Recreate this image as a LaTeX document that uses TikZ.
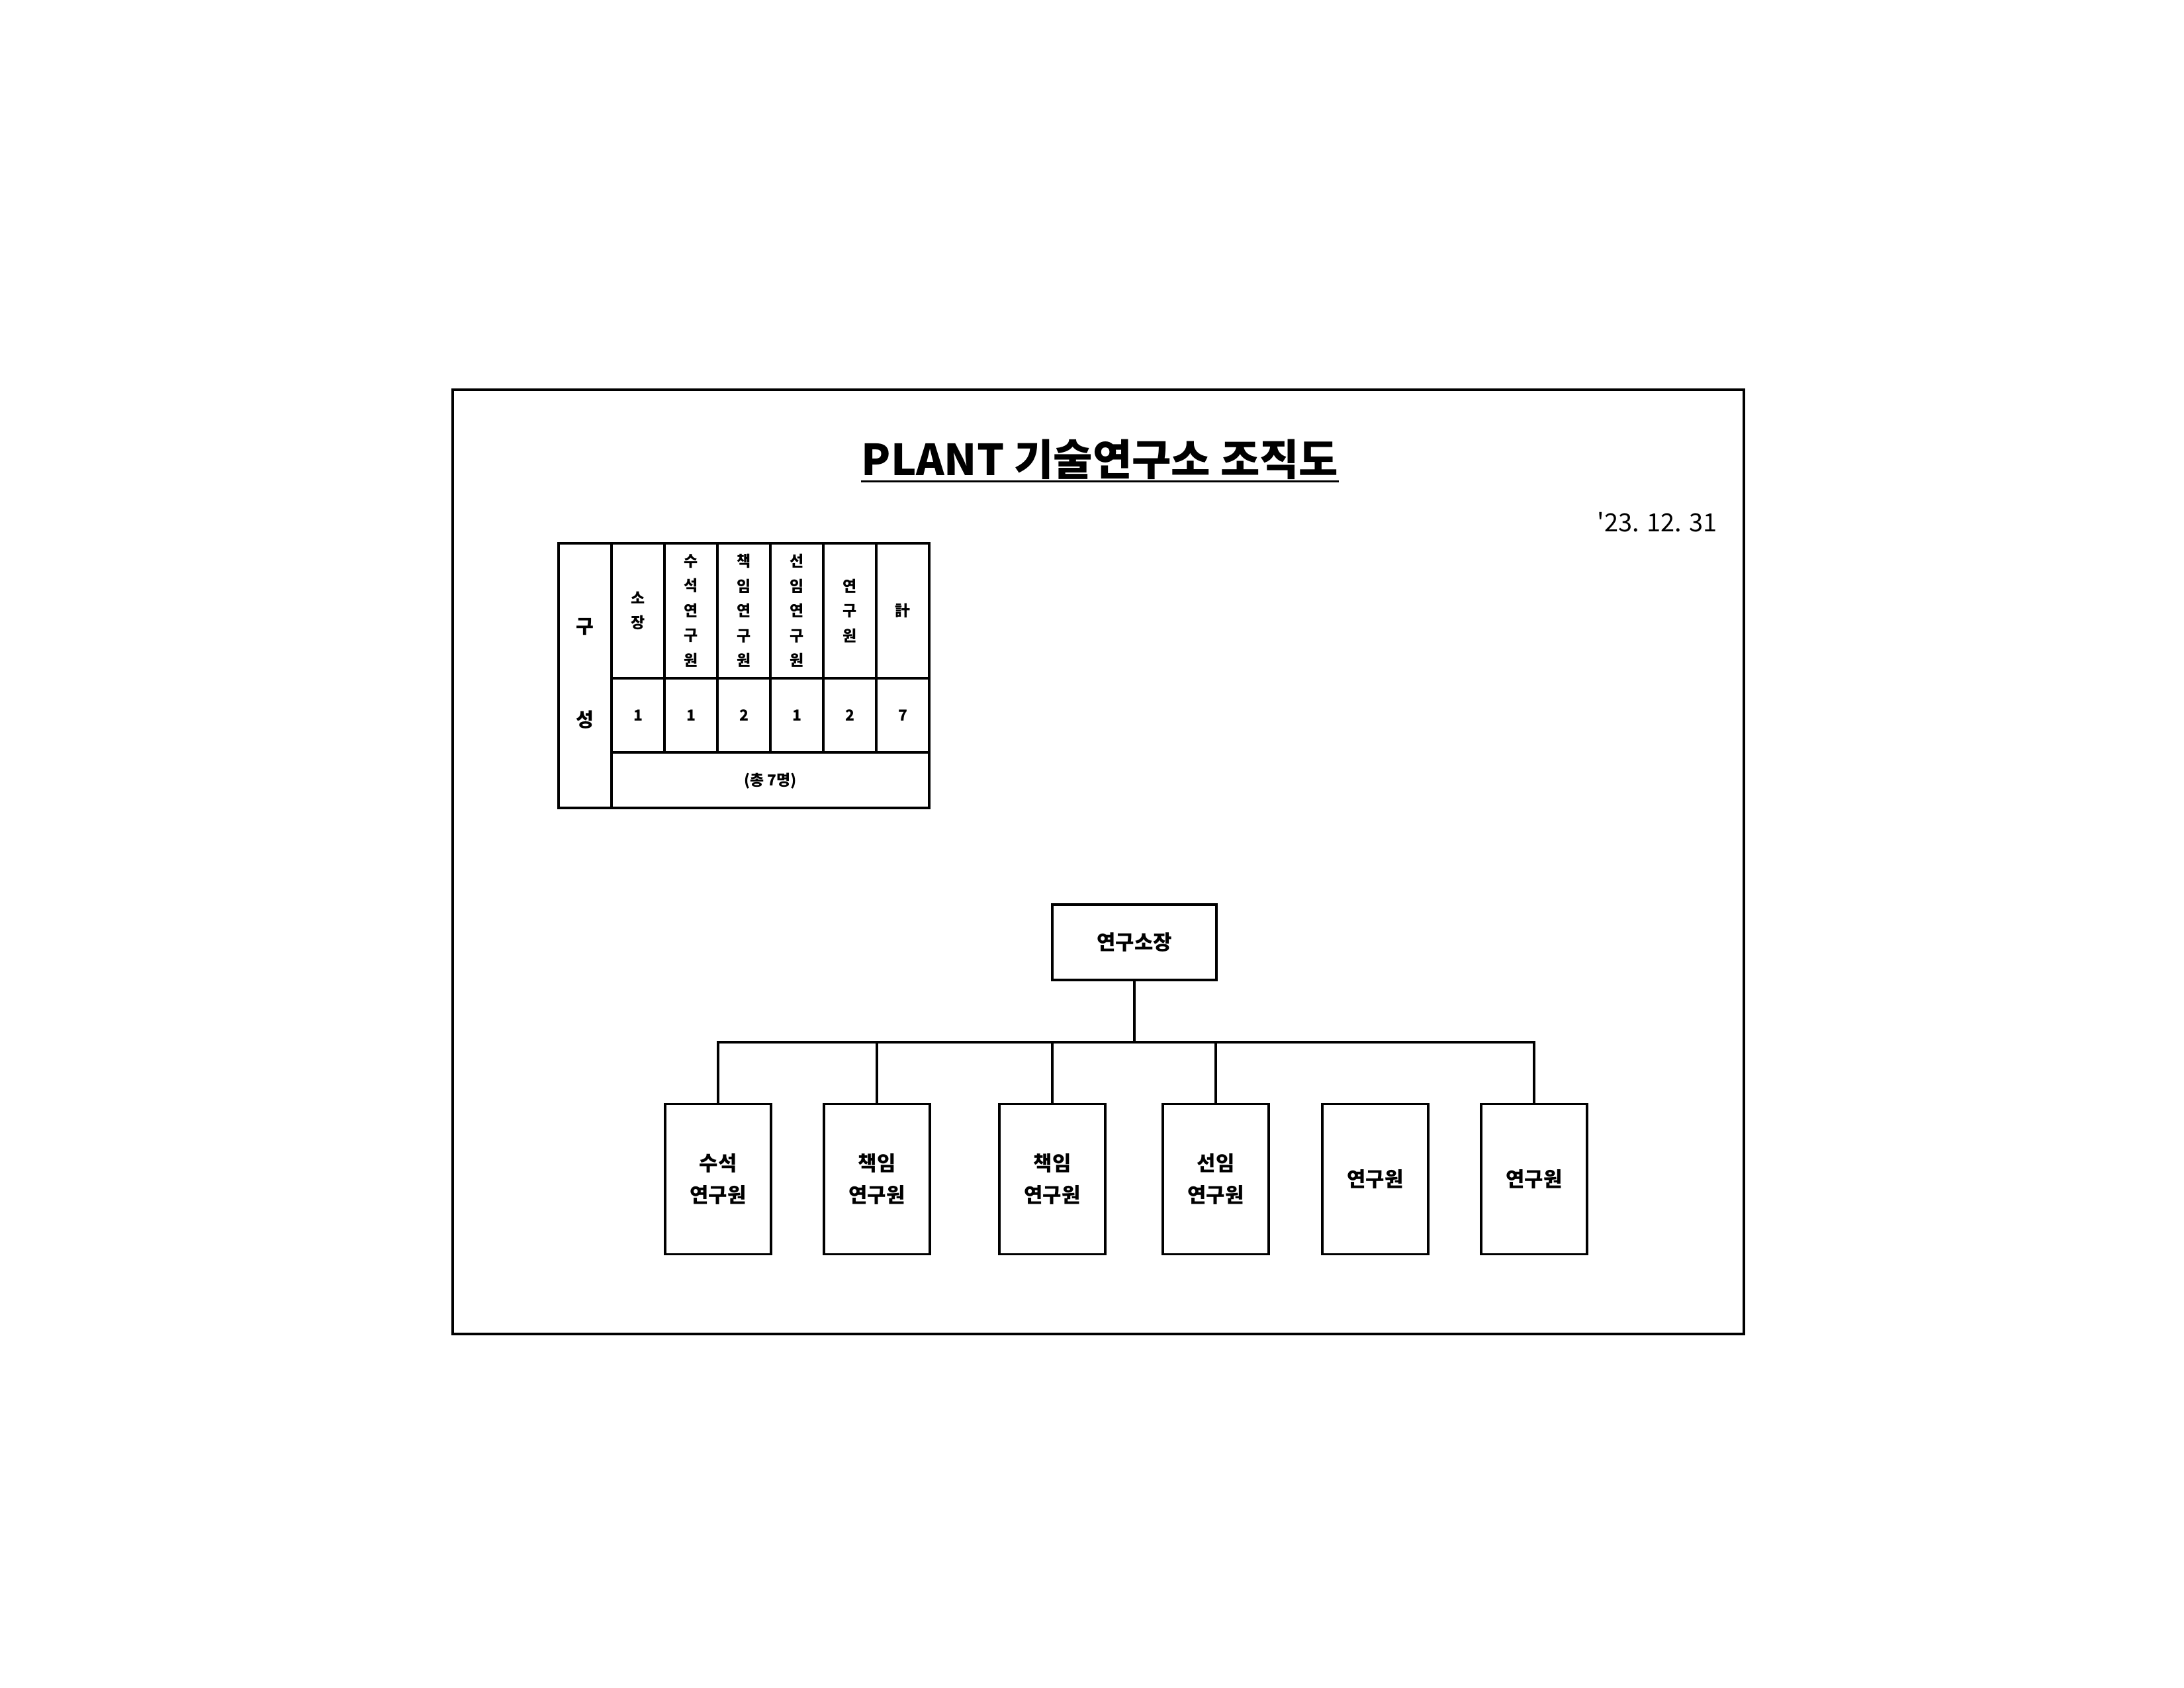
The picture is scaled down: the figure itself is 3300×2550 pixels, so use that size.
\documentclass[tikz,border=0pt]{standalone}
\usepackage{fontspec}
\setmainfont{Noto Sans CJK KR}
\newfontfamily\plainfont{Noto Sans CJK KR}
\begin{document}
\begin{tikzpicture}[x=0.24pt,y=-0.24pt,
  frame/.style={draw,line width=0.85pt},
  tline/.style={line width=0.8pt},
  tabtxt/.style={inner sep=0pt,align=center,font=\bfseries\fontsize{5.5}{9}\selectfont},
  bigtxt/.style={inner sep=0pt,font=\bfseries\fontsize{7}{9}\selectfont},
  topbox/.style={draw,line width=0.85pt,minimum width=59.5pt,minimum height=27.4pt,inner sep=0pt,font=\bfseries\fontsize{7.4}{11.5}\selectfont},
  mbox/.style={draw,line width=0.85pt,minimum width=38.4pt,minimum height=54.5pt,inner sep=0pt,align=center,font=\bfseries\fontsize{7.4}{11.5}\selectfont},
  conn/.style={draw,line width=0.75pt}]
\useasboundingbox (0,0) rectangle (3300,2550);
\draw[frame] (684,589) rectangle (2635,2016);
% title
\node[anchor=base,inner sep=0pt,font=\bfseries\fontsize{15.5}{18}\selectfont] (title) at (1662,718) {PLANT 기술연구소 조직도};
\draw[line width=0.75pt] ([yshift=-2.2pt]title.base west) -- ([yshift=-2.2pt]title.base east);
\node[anchor=base east,inner sep=0pt,font=\plainfont\fontsize{9.1}{12}\selectfont] (date) at (2595,803) {'23. 12. 31};
% table
\draw[tline] (844,821) rectangle (1404,1221);
\draw[tline] (924,821) -- (924,1221);
\foreach \x in {1004,1084,1164,1244,1324} \draw[tline] (\x,821) -- (\x,1137);
\draw[tline] (924,1025) -- (1404,1025);
\draw[tline] (924,1137) -- (1404,1137);
\node[bigtxt] (gu) at (884,947) {구};
\node[bigtxt] (seong) at (884,1088) {성};
\node[tabtxt] (h1) at (964,923) {소\\장};
\node[tabtxt] (h2) at (1044,923) {수\\석\\연\\구\\원};
\node[tabtxt] (h3) at (1124,923) {책\\임\\연\\구\\원};
\node[tabtxt] (h4) at (1204,923) {선\\임\\연\\구\\원};
\node[tabtxt] (h5) at (1284,923) {연\\구\\원};
\node[tabtxt] (h6) at (1364,923) {計};
\node[tabtxt] (n1) at (964,1081) {1};
\node[tabtxt] (n2) at (1044,1081) {1};
\node[tabtxt] (n3) at (1124,1081) {2};
\node[tabtxt] (n4) at (1204,1081) {1};
\node[tabtxt] (n5) at (1284,1081) {2};
\node[tabtxt] (n6) at (1364,1081) {7};
\node[tabtxt] (total) at (1164,1180) {(총 7명)};
% org chart
\node[topbox] (dir) at (1714,1424) {연구소장};
\node[mbox] (m1) at (1085,1782) {수석\\연구원};
\node[mbox] (m2) at (1325,1782) {책임\\연구원};
\node[mbox] (m3) at (1590,1782) {책임\\연구원};
\node[mbox] (m4) at (1837,1782) {선임\\연구원};
\node[mbox] (m5) at (2078,1782) {연구원};
\node[mbox] (m6) at (2318,1782) {연구원};
\coordinate (bus) at (1714,1575);
\draw[conn] (dir.south) -- (bus);
\draw[conn] (m1.north) |- (bus);
\draw[conn] (m2.north) |- (bus);
\draw[conn] (m3.north) |- (bus);
\draw[conn] (m4.north) |- (bus);
\draw[conn] (m6.north) |- (bus);
\end{tikzpicture}
\end{document}
